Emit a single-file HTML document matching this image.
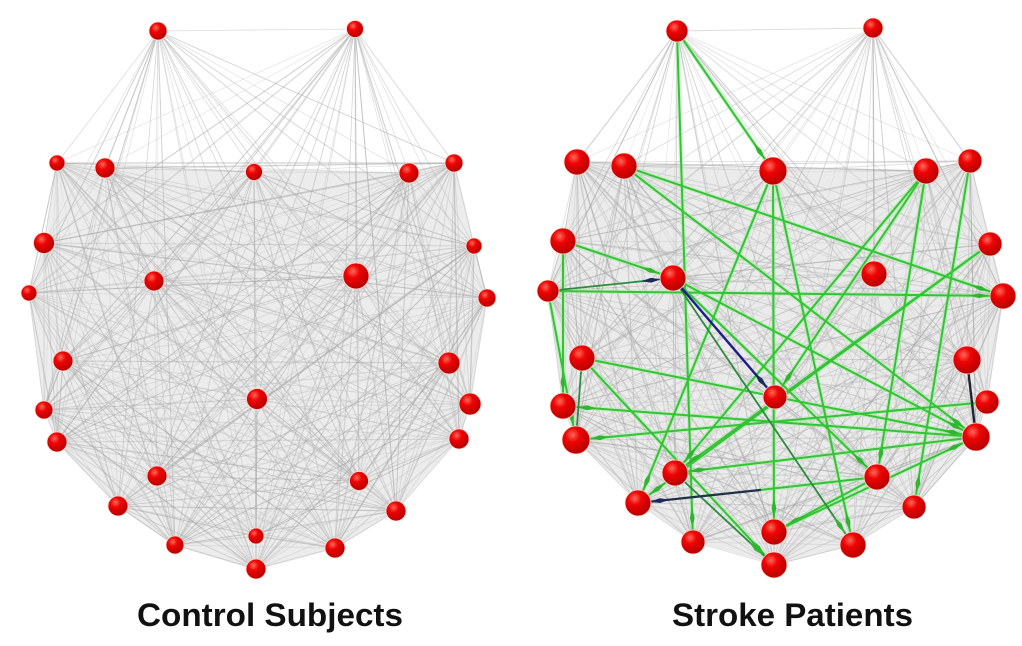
<!DOCTYPE html>
<html><head><meta charset="utf-8">
<style>
html,body{margin:0;padding:0;background:#fff;}
svg{display:block;}
</style></head>
<body>
<svg id="s" width="1022" height="646" viewBox="0 0 1022 646" xmlns="http://www.w3.org/2000/svg">
<defs>
<radialGradient id="ball" cx="38%" cy="32%" r="72%">
<stop offset="0" stop-color="#ff6a5a"/>
<stop offset="0.35" stop-color="#ee0404"/>
<stop offset="1" stop-color="#b00000"/>
</radialGradient>
<marker id="ag" markerUnits="userSpaceOnUse" markerWidth="20" markerHeight="8" viewBox="0 0 20 6" refX="34" refY="3" orient="auto" style="overflow:visible">
<path d="M0,3 L10,0.6 L20,3 L10,5.4Z" fill="#2fb52f"/>
</marker>
<marker id="ad" markerUnits="userSpaceOnUse" markerWidth="20" markerHeight="8" viewBox="0 0 20 6" refX="32" refY="3" orient="auto" style="overflow:visible">
<path d="M0,3 L10,0.6 L20,3 L10,5.4Z" fill="#1a2a5a"/>
</marker>
</defs>
<rect width="1022" height="646" fill="#fff"/>
<polygon points="57,163 105,168 254,172 409,173 454,163 474,246 487,298 470,404 459,439 396,511 335,548 256,569 175,545 118,506 57,442 44,410 29,293 44,243" fill="#ececec"/>
<polygon points="577,162 624,166 773,171 926,171 970,161 990,244 1003,296 987,402 976,437 914,507 853,545 774,565 693,542 638,503 576,440 563,406 548,291 563,241" fill="#ebebeb"/>
<g id="gray"></g>

<g stroke-linecap="round" fill="none">
<g stroke="#a8eea8" stroke-width="4.5" stroke-opacity="0.55">
<line x1="677" y1="31" x2="693" y2="542"/>
<line x1="677" y1="31" x2="773" y2="171"/>
<line x1="624" y1="166" x2="1003" y2="296"/>
<line x1="624" y1="166" x2="976" y2="437"/>
<line x1="563" y1="241" x2="673" y2="278"/>
<line x1="563" y1="241" x2="563" y2="406"/>
<line x1="548" y1="291" x2="576" y2="440"/>
<line x1="548" y1="291" x2="1003" y2="296"/>
<line x1="673" y1="278" x2="877" y2="477"/>
<line x1="582" y1="358" x2="774" y2="565"/>
<line x1="773" y1="171" x2="774" y2="532"/>
<line x1="773" y1="171" x2="638" y2="503"/>
<line x1="773" y1="171" x2="853" y2="545"/>
<line x1="926" y1="171" x2="675" y2="473"/>
<line x1="926" y1="171" x2="775" y2="397"/>
<line x1="926" y1="171" x2="877" y2="477"/>
<line x1="970" y1="161" x2="914" y2="507"/>
<line x1="990" y1="244" x2="675" y2="473"/>
<line x1="990" y1="244" x2="638" y2="503"/>
<line x1="976" y1="437" x2="563" y2="406"/>
<line x1="987" y1="402" x2="576" y2="440"/>
<line x1="976" y1="437" x2="675" y2="473"/>
<line x1="877" y1="477" x2="774" y2="532"/>
<line x1="774" y1="532" x2="976" y2="437"/>
<line x1="673" y1="278" x2="976" y2="437"/>
<line x1="582" y1="358" x2="976" y2="437"/>
<line x1="877" y1="477" x2="760" y2="490"/>
</g>
<g stroke="#36c236" stroke-width="2">
<line x1="677" y1="31" x2="693" y2="542" marker-end="url(#ag)"/>
<line x1="677" y1="31" x2="773" y2="171" marker-end="url(#ag)"/>
<line x1="624" y1="166" x2="1003" y2="296" marker-end="url(#ag)"/>
<line x1="624" y1="166" x2="976" y2="437" marker-end="url(#ag)"/>
<line x1="563" y1="241" x2="673" y2="278" marker-end="url(#ag)"/>
<line x1="563" y1="241" x2="563" y2="406" marker-end="url(#ag)"/>
<line x1="548" y1="291" x2="576" y2="440" marker-end="url(#ag)"/>
<line x1="548" y1="291" x2="1003" y2="296" marker-end="url(#ag)"/>
<line x1="673" y1="278" x2="877" y2="477" marker-end="url(#ag)"/>
<line x1="582" y1="358" x2="774" y2="565" marker-end="url(#ag)"/>
<line x1="773" y1="171" x2="774" y2="532" marker-end="url(#ag)"/>
<line x1="773" y1="171" x2="638" y2="503" marker-end="url(#ag)"/>
<line x1="773" y1="171" x2="853" y2="545" marker-end="url(#ag)"/>
<line x1="926" y1="171" x2="675" y2="473" marker-end="url(#ag)"/>
<line x1="926" y1="171" x2="775" y2="397" marker-end="url(#ag)"/>
<line x1="926" y1="171" x2="877" y2="477" marker-end="url(#ag)"/>
<line x1="970" y1="161" x2="914" y2="507" marker-end="url(#ag)"/>
<line x1="990" y1="244" x2="675" y2="473" marker-end="url(#ag)"/>
<line x1="990" y1="244" x2="638" y2="503" marker-end="url(#ag)"/>
<line x1="976" y1="437" x2="563" y2="406" marker-end="url(#ag)"/>
<line x1="987" y1="402" x2="576" y2="440" marker-end="url(#ag)"/>
<line x1="976" y1="437" x2="675" y2="473" marker-end="url(#ag)"/>
<line x1="877" y1="477" x2="774" y2="532" marker-end="url(#ag)"/>
<line x1="774" y1="532" x2="976" y2="437" marker-end="url(#ag)"/>
<line x1="673" y1="278" x2="976" y2="437" marker-end="url(#ag)"/>
<line x1="582" y1="358" x2="976" y2="437" marker-end="url(#ag)"/>
<line x1="877" y1="477" x2="760" y2="490"/>
</g>
<g stroke="#2d8a3e" stroke-width="1.8">
<line x1="673" y1="278" x2="853" y2="545" marker-end="url(#ag)"/>
<line x1="675" y1="473" x2="774" y2="565" marker-end="url(#ag)"/>
<line x1="548" y1="291" x2="673" y2="278" marker-end="url(#ad)"/>
<line x1="582" y1="358" x2="576" y2="440"/>
</g>
<line x1="673" y1="278" x2="775" y2="397" stroke="#1c1c8c" stroke-width="2.4" marker-end="url(#ad)"/>
<line x1="967" y1="360" x2="976" y2="437" stroke="#1e2430" stroke-width="2.4"/>
<line x1="760" y1="490" x2="638" y2="503" stroke="#1d3348" stroke-width="2.2" marker-end="url(#ad)"/>
</g>

<g fill="url(#ball)" stroke="#ffd8d0" stroke-width="0.8">
<circle cx="158" cy="31" r="9"/>
<circle cx="355" cy="29" r="8.5"/>
<circle cx="57" cy="163" r="8"/>
<circle cx="105" cy="168" r="10"/>
<circle cx="254" cy="172" r="8.5"/>
<circle cx="409" cy="173" r="10"/>
<circle cx="454" cy="163" r="9"/>
<circle cx="44" cy="243" r="10.5"/>
<circle cx="474" cy="246" r="8"/>
<circle cx="29" cy="293" r="8"/>
<circle cx="154" cy="281" r="10"/>
<circle cx="356" cy="276" r="13"/>
<circle cx="487" cy="298" r="9"/>
<circle cx="63" cy="361" r="10"/>
<circle cx="44" cy="410" r="9"/>
<circle cx="57" cy="442" r="10"/>
<circle cx="257" cy="399" r="10.5"/>
<circle cx="449" cy="363" r="11"/>
<circle cx="470" cy="404" r="11"/>
<circle cx="459" cy="439" r="10"/>
<circle cx="157" cy="476" r="10"/>
<circle cx="359" cy="481" r="9.5"/>
<circle cx="118" cy="506" r="10"/>
<circle cx="396" cy="511" r="10"/>
<circle cx="175" cy="545" r="9"/>
<circle cx="256" cy="536" r="8"/>
<circle cx="335" cy="548" r="10"/>
<circle cx="256" cy="569" r="10"/>
</g>
<g fill="url(#ball)" stroke="#ffd8d0" stroke-width="0.8">
<circle cx="677" cy="31" r="11"/>
<circle cx="873" cy="28" r="10"/>
<circle cx="577" cy="162" r="13"/>
<circle cx="624" cy="166" r="13"/>
<circle cx="773" cy="171" r="14"/>
<circle cx="926" cy="171" r="13"/>
<circle cx="970" cy="161" r="12"/>
<circle cx="563" cy="241" r="13"/>
<circle cx="990" cy="244" r="12"/>
<circle cx="548" cy="291" r="11"/>
<circle cx="673" cy="278" r="13"/>
<circle cx="874" cy="274" r="13"/>
<circle cx="1003" cy="296" r="13"/>
<circle cx="582" cy="358" r="13"/>
<circle cx="563" cy="406" r="13"/>
<circle cx="576" cy="440" r="14"/>
<circle cx="775" cy="397" r="12"/>
<circle cx="967" cy="360" r="14"/>
<circle cx="987" cy="402" r="12"/>
<circle cx="976" cy="437" r="14"/>
<circle cx="675" cy="473" r="13"/>
<circle cx="877" cy="477" r="13"/>
<circle cx="638" cy="503" r="13"/>
<circle cx="914" cy="507" r="12"/>
<circle cx="693" cy="542" r="12"/>
<circle cx="774" cy="532" r="13"/>
<circle cx="853" cy="545" r="13"/>
<circle cx="774" cy="565" r="13"/>
</g>

<text x="137" y="626" font-family="Liberation Sans, Arial, sans-serif" font-weight="bold" font-size="32" fill="#111" textLength="266" lengthAdjust="spacingAndGlyphs">Control Subjects</text>
<text x="672" y="626" font-family="Liberation Sans, Arial, sans-serif" font-weight="bold" font-size="32" fill="#111" textLength="241" lengthAdjust="spacingAndGlyphs">Stroke Patients</text>
</svg>
<script>
(function(){
var NS="http://www.w3.org/2000/svg";
var g=document.getElementById('gray');
var seed=12345;
function rnd(){seed=(seed*1103515245+12345)%2147483648;return seed/2147483648;}
var L=[[158,31],[355,29],[57,163],[105,168],[254,172],[409,173],[454,163],[44,243],[474,246],[29,293],[154,281],[356,276],[487,298],[63,361],[44,410],[57,442],[257,399],[449,363],[470,404],[459,439],[157,476],[359,481],[118,506],[396,511],[175,545],[256,536],[335,548],[256,569]];
var R=[[677,31],[873,28],[577,162],[624,166],[773,171],[926,171],[970,161],[563,241],[990,244],[548,291],[673,278],[874,274],[1003,296],[582,358],[563,406],[576,440],[775,397],[967,360],[987,402],[976,437],[675,473],[877,477],[638,503],[914,507],[693,542],[774,532],[853,545],[774,565]];
function draw(n){
 for(var i=0;i<n.length;i++)for(var j=i+1;j<n.length;j++){
  var l=document.createElementNS(NS,'line');
  l.setAttribute('x1',n[i][0]);l.setAttribute('y1',n[i][1]);
  l.setAttribute('x2',n[j][0]);l.setAttribute('y2',n[j][1]);
  var v=150+Math.floor(rnd()*55);
  l.setAttribute('stroke','rgb('+v+','+v+','+v+')');
  l.setAttribute('stroke-width',(0.6+rnd()*0.7).toFixed(2));
  l.setAttribute('stroke-opacity',(0.32+rnd()*0.3).toFixed(2));
  g.appendChild(l);
 }
}
draw(L);draw(R);
})();
</script>
</body></html>
